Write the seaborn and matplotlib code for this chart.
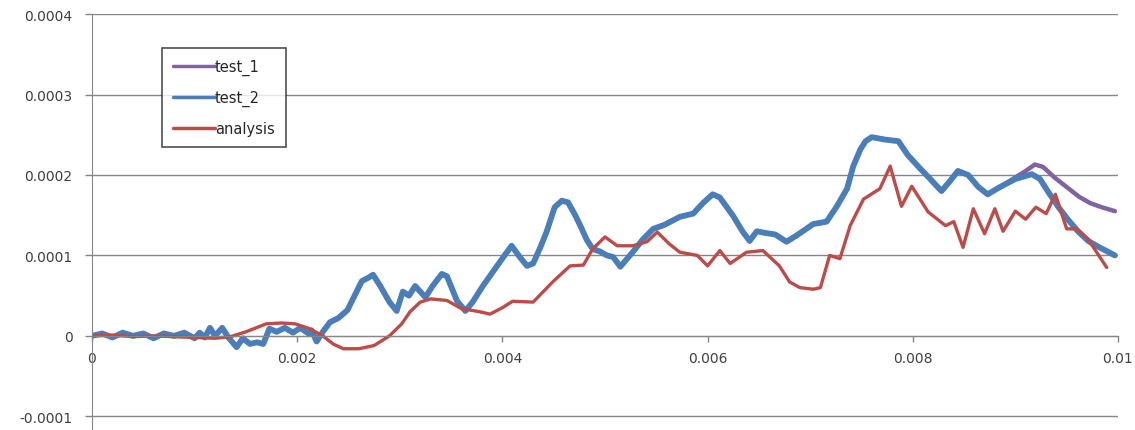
import numpy as np
import pandas as pd
import seaborn as sns
import matplotlib
matplotlib.use("Agg")
import matplotlib.pyplot as plt
from matplotlib.ticker import FuncFormatter

# values: x in units of 1e-3, y in units of 1e-4
test_2_x = [0.0, 0.1, 0.2, 0.3, 0.4, 0.5, 0.6, 0.7, 0.8, 0.9, 1.0, 1.05, 1.1,
            1.15, 1.2, 1.27, 1.33, 1.41, 1.47, 1.54, 1.61, 1.67, 1.73, 1.80, 1.88,
            1.96, 2.03, 2.11, 2.14, 2.19, 2.25, 2.32, 2.40, 2.49, 2.56, 2.63, 2.69,
            2.74, 2.81, 2.90, 2.97, 3.03, 3.09, 3.15, 3.20, 3.25, 3.32, 3.41, 3.46,
            3.56, 3.64, 3.71, 3.81, 3.91, 4.01, 4.09, 4.17, 4.24, 4.30, 4.37, 4.43,
            4.51, 4.58, 4.64, 4.71, 4.76, 4.82, 4.88, 4.95, 5.02, 5.08, 5.15, 5.21,
            5.27, 5.37, 5.47, 5.58, 5.73, 5.86, 5.955, 6.05, 6.12, 6.25, 6.34, 6.41,
            6.48, 6.56, 6.66, 6.77, 6.87, 6.95, 7.03, 7.16, 7.26, 7.36, 7.42, 7.49,
            7.54, 7.60, 7.73, 7.86, 7.95, 8.05, 8.17, 8.28, 8.36, 8.44, 8.54, 8.64,
            8.73, 8.85, 9.00, 9.16, 9.24, 9.32, 9.42, 9.51, 9.61, 9.71, 9.82, 9.97]
test_2_y = [0.0, 0.03, -0.02, 0.04, 0.0, 0.03, -0.03, 0.03, 0.0, 0.04, -0.03, 0.04, -0.02,
            0.1, 0.0, 0.1, -0.02, -0.14, -0.03, -0.1, -0.08, -0.1, 0.09, 0.05, 0.1,
            0.04, 0.1, 0.03, 0.07, -0.07, 0.05, 0.17, 0.22, 0.32, 0.5, 0.68, 0.72,
            0.76, 0.62, 0.42, 0.31, 0.55, 0.5, 0.62, 0.55, 0.48, 0.62, 0.77, 0.74,
            0.43, 0.31, 0.42, 0.62, 0.8, 0.98, 1.12, 0.98, 0.87, 0.9, 1.1, 1.29,
            1.6, 1.68, 1.66, 1.5, 1.37, 1.2, 1.08, 1.05, 1.0, 0.98, 0.86, 0.95,
            1.04, 1.2, 1.33, 1.38, 1.48, 1.52, 1.65, 1.76, 1.72, 1.49, 1.3, 1.18,
            1.3, 1.28, 1.26, 1.17, 1.25, 1.32, 1.39, 1.42, 1.61, 1.83, 2.11, 2.32,
            2.42, 2.47, 2.44, 2.42, 2.25, 2.11, 1.95, 1.8, 1.92, 2.05, 2.0, 1.85,
            1.76, 1.85, 1.95, 2.01, 1.95, 1.79, 1.6, 1.45, 1.3, 1.18, 1.1, 1.0]

# test_1 follows test_2 until about 0.009, then splits off above it
split_idx = 111
test_1_tail_x = [9.10, 9.19, 9.27, 9.38, 9.50, 9.62, 9.73, 9.84, 9.97]
test_1_tail_y = [2.05, 2.13, 2.10, 1.97, 1.85, 1.73, 1.65, 1.60, 1.55]

analysis_x = [0.0, 0.2, 0.4, 0.6, 0.8, 1.0, 1.2, 1.35, 1.5, 1.7, 1.85, 1.98, 2.12,
              2.25, 2.35, 2.45, 2.6, 2.75, 2.9, 3.02, 3.1, 3.2, 3.3, 3.46, 3.6, 3.78,
              3.88, 4.0, 4.1, 4.3, 4.49, 4.66, 4.79, 4.88, 5.0, 5.12, 5.27, 5.41,
              5.51, 5.63, 5.73, 5.9, 6.0, 6.12, 6.22, 6.38, 6.54, 6.7, 6.8, 6.9,
              7.03, 7.1, 7.19, 7.29, 7.39, 7.52, 7.68, 7.78, 7.89, 7.99, 8.15, 8.32,
              8.4, 8.49, 8.59, 8.7, 8.8, 8.88, 9.0, 9.1, 9.2, 9.3, 9.39, 9.5, 9.6,
              9.71, 9.89]
analysis_y = [0.0, 0.01, -0.01, 0.0, -0.01, -0.02, -0.03, -0.01, 0.05, 0.15, 0.16, 0.15, 0.09,
              0.0, -0.1, -0.16, -0.16, -0.12, 0.0, 0.15, 0.3, 0.42, 0.46, 0.44, 0.34, 0.3,
              0.27, 0.35, 0.43, 0.42, 0.67, 0.87, 0.88, 1.08, 1.23, 1.12, 1.12, 1.17,
              1.29, 1.14, 1.04, 1.0, 0.87, 1.06, 0.9, 1.04, 1.06, 0.87, 0.67, 0.6,
              0.58, 0.6, 1.0, 0.96, 1.37, 1.7, 1.83, 2.11, 1.61, 1.86, 1.54, 1.37,
              1.42, 1.1, 1.58, 1.27, 1.58, 1.3, 1.55, 1.45, 1.6, 1.52, 1.76, 1.33, 1.33,
              1.2, 0.85]

y_ticks = [-0.0001, 0, 0.0001, 0.0002, 0.0003, 0.0004]
x_ticks = [0, 0.002, 0.004, 0.006, 0.008, 0.01]

test_1_x = test_2_x[:split_idx] + test_1_tail_x
test_1_y = test_2_y[:split_idx] + test_1_tail_y

df1 = pd.DataFrame({"x": np.array(test_1_x) * 1e-3, "y": np.array(test_1_y) * 1e-4})
df2 = pd.DataFrame({"x": np.array(test_2_x) * 1e-3, "y": np.array(test_2_y) * 1e-4})
df3 = pd.DataFrame({"x": np.array(analysis_x) * 1e-3, "y": np.array(analysis_y) * 1e-4})

sns.set_style("white")
plt.rcParams["font.family"] = ["DejaVu Sans"]

fig = plt.figure(figsize=(11.35, 4.31), dpi=100)
ax = fig.add_axes([0.081, 0.0, 0.904, 0.965])

grey = "#868686"
sns.lineplot(data=df1, x="x", y="y", ax=ax, color="#8064A2", linewidth=3.2,
             label="test_1", estimator=None, sort=False)
sns.lineplot(data=df2, x="x", y="y", ax=ax, color="#4A7EBB", linewidth=4.2,
             label="test_2", estimator=None, sort=False)
sns.lineplot(data=df3, x="x", y="y", ax=ax, color="#BE4B48", linewidth=2.4,
             label="analysis", estimator=None, sort=False)

ax.set_xlim(0, 0.01)
ax.set_ylim(-0.000117, 0.0004)
ax.set_xticks(x_ticks)
ax.set_yticks(y_ticks)
fmt = FuncFormatter(lambda v, p: "0" if abs(v) < 1e-12 else f"{v:g}")
ax.xaxis.set_major_formatter(fmt)
ax.yaxis.set_major_formatter(fmt)
ax.set_xlabel("")
ax.set_ylabel("")

ax.grid(axis="y", color=grey, linewidth=1.0)
ax.grid(axis="x", visible=False)
ax.set_axisbelow(True)

for side in ["top", "right"]:
    ax.spines[side].set_visible(False)
ax.spines["left"].set_color(grey)
ax.spines["bottom"].set_color(grey)
ax.spines["bottom"].set_position(("data", 0))

ax.tick_params(axis="y", direction="out", length=5, width=1, color=grey,
               pad=9, labelsize=10, labelcolor="#404040", left=True)
ax.tick_params(axis="x", direction="out", length=4, width=1, color=grey,
               pad=7, labelsize=10, labelcolor="#404040", bottom=True)

leg = ax.legend(loc="upper left", bbox_to_anchor=(0.068, 0.918), frameon=True,
                fancybox=False, edgecolor="#222222", fontsize=10.5,
                handlelength=2.9, handletextpad=0.0, labelspacing=1.0,
                borderpad=0.75, borderaxespad=0)
leg.get_frame().set_linewidth(1.2)
for line in leg.get_lines():
    line.set_linewidth(2.5)

fig.savefig("out.png", dpi=100)
